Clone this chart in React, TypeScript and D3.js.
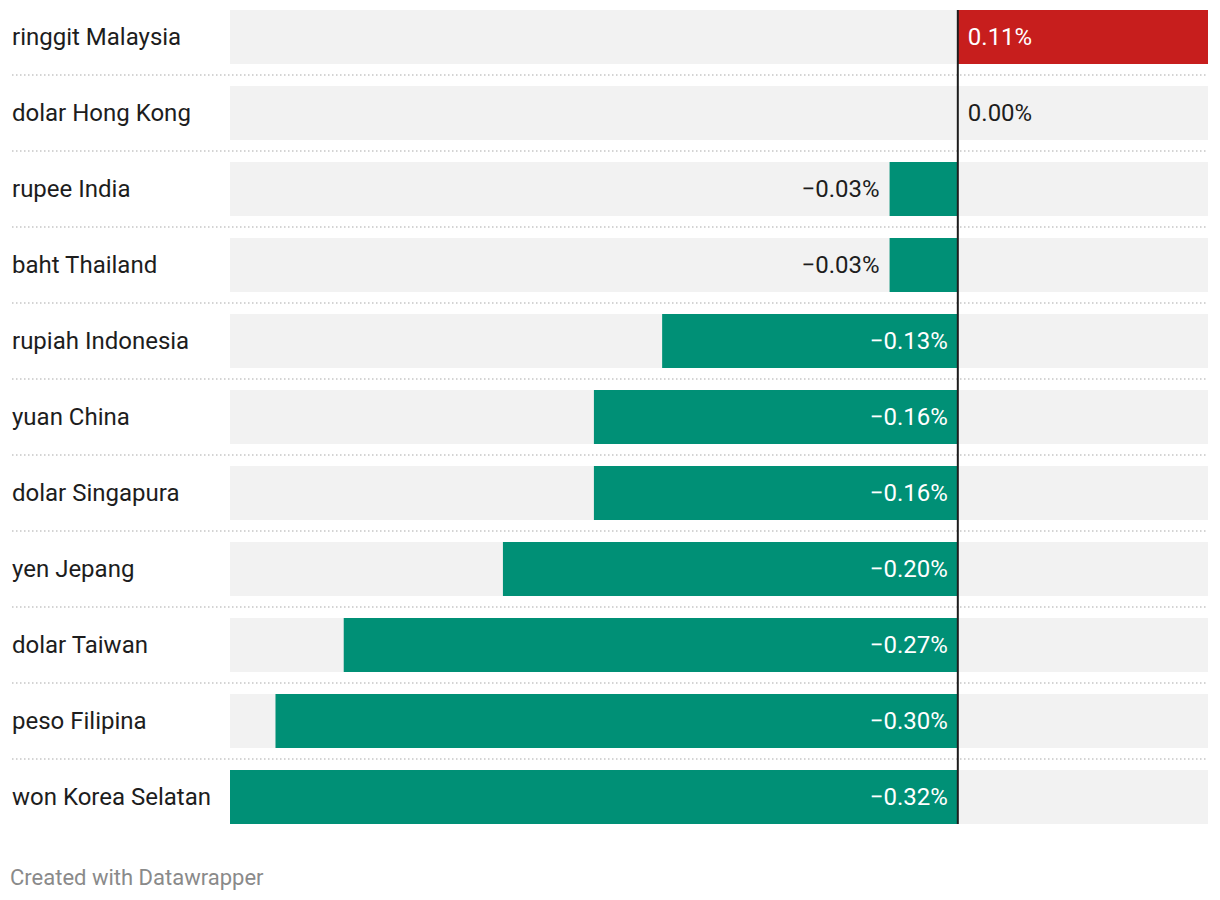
import React from "react";
import * as d3 from "d3";

const categories = [
  "ringgit Malaysia",
  "dolar Hong Kong",
  "rupee India",
  "baht Thailand",
  "rupiah Indonesia",
  "yuan China",
  "dolar Singapura",
  "yen Jepang",
  "dolar Taiwan",
  "peso Filipina",
  "won Korea Selatan",
];
const values = [0.11, 0.0, -0.03, -0.03, -0.13, -0.16, -0.16, -0.2, -0.27, -0.3, -0.32];
const footer = "Created with Datawrapper";

const W = 1220;
const H = 900;
const FONT = "Roboto, sans-serif";

export default function App() {
  const x = d3.scaleLinear().domain([-0.32, 0.11]).range([230, 1208]);
  const y = d3
    .scaleBand<string>()
    .domain(categories)
    .range([0, 76 * categories.length - 22])
    .paddingInner(22 / 76)
    .paddingOuter(0);
  const top = 10;
  const bh = y.bandwidth();
  const x0 = x(0);
  const fmt = (v: number) => (v < 0 ? "\u2212" : "") + Math.abs(v).toFixed(2) + "%";
  const lastBottom = top + (y(categories[categories.length - 1]) ?? 0) + bh;

  return (
    <svg width={W} height={H} style={{ position: "absolute", left: 0, top: 0, background: "#fff" }}>
      {categories.map((c, i) => {
        const v = values[i];
        const yy = top + (y(c) ?? 0);
        const xs = Math.min(x(v), x0);
        const w = Math.abs(x(v) - x0);
        const cy = yy + bh / 2;
        const inside = w > 90;
        let tx: number, anchor: "start" | "end", fill: string;
        if (v > 0) {
          tx = x0 + 10;
          anchor = "start";
          fill = "#ffffff";
        } else if (v === 0) {
          tx = x0 + 10;
          anchor = "start";
          fill = "#1d1d1d";
        } else if (inside) {
          tx = x0 - 10;
          anchor = "end";
          fill = "#ffffff";
        } else {
          tx = x(v) - 10;
          anchor = "end";
          fill = "#1d1d1d";
        }
        return (
          <g key={c}>
            <rect x={x.range()[0]} y={yy} width={x.range()[1] - x.range()[0]} height={bh} fill="#f2f2f2" />
            {w > 0 && (
              <rect x={xs} y={yy} width={w} height={bh} fill={v > 0 ? "#c71e1d" : "#009076"} />
            )}
            <text x={12} y={cy} dy="0.35em" fontFamily={FONT} fontSize={24} fill="#1d1d1d">
              {c}
            </text>
            <text x={tx} y={cy} dy="0.35em" fontFamily={FONT} fontSize={24} fill={fill} textAnchor={anchor}>
              {fmt(v)}
            </text>
            {i < categories.length - 1 && (
              <line
                x1={12}
                x2={1208}
                y1={yy + bh + 11}
                y2={yy + bh + 11}
                stroke="#d4d4d4"
                strokeWidth={2}
                strokeDasharray="1.5,2.5"
              />
            )}
          </g>
        );
      })}
      <line x1={x0} x2={x0} y1={top} y2={lastBottom} stroke="#1d1d1d" strokeWidth={2} />
      <text x={10} y={877} dy="0.35em" fontFamily={FONT} fontSize={22} fill="#8a8a8a">
        {footer}
      </text>
    </svg>
  );
}
